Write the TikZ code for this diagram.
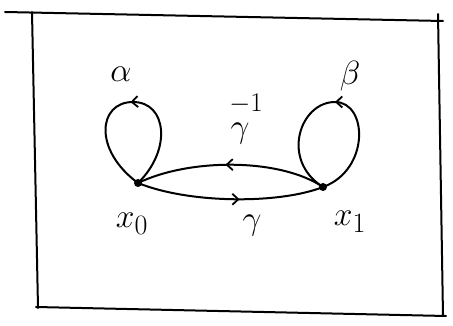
\documentclass[tikz,border=0pt]{standalone}
\usetikzlibrary{arrows.meta,decorations.markings}
\begin{document}
\begin{tikzpicture}[x=1pt,y=-1pt,
  ink/.style={line width=2pt,line cap=round,line join=round},
  frameline/.style={line width=2pt,line cap=round},
  midarrow/.style={postaction={decorate},decoration={markings,
    mark=at position #1 with {\arrow{Straight Barb[length=6pt,width=11pt,line width=1.8pt]}}}},
  vertex/.style={circle,fill=black,inner sep=0pt,minimum size=8pt},
  lbl/.style={font=\Huge}]
\useasboundingbox (0,0) rectangle (453,326);
% frame
\coordinate (tl0) at (5,12);
\coordinate (tr0) at (443,21);
\coordinate (lt) at (32,12);
\coordinate (lb) at (38,308);
\coordinate (rt) at (438,14);
\coordinate (rb) at (443,316);
\coordinate (bl) at (36,307);
\coordinate (br) at (446,316);
\draw[frameline] (tl0) -- (tr0);
\draw[frameline] (lt) -- (lb);
\draw[frameline] (rt) -- (rb);
\draw[frameline] (bl) -- (br);
% vertices
\node[vertex] (x0) at (138,183) {};
\node[vertex] (x1) at (323,187) {};
% loops
\draw[ink,midarrow=0.5] (x0.center) .. controls (172,150) and (167,102) .. (133,102)
   .. controls (98,102) and (93,150) .. (x0.center);
\draw[ink,midarrow=0.5] (x1.center) .. controls (370,170) and (368,102) .. (335,102)
   .. controls (300,102) and (280,160) .. (x1.center);
% arcs
\draw[ink,midarrow=0.53] (x1.center) .. controls (280,158) and (190,158) .. (x0.center);
\draw[ink,midarrow=0.55] (x0.center) .. controls (190,204) and (280,204) .. (x1.center);
% labels
\node[lbl] (la) at (121,74) {\scalebox{1.35}{$\alpha$}};
\node[lbl] (lbt) at (350,76) {\scalebox{1.35}{$\beta$}};
\node[lbl] (lgi) at (240,134) {\scalebox{1.35}{$\gamma$}};
\node[font=\huge] (lgm) at (246,104) {\scalebox{1.3}{$-1$}};
\node[lbl] (lg) at (252,226) {\scalebox{1.35}{$\gamma$}};
\node[lbl] (lx0) at (132,224) {\scalebox{1.35}{$x_0$}};
\node[lbl] (lx1) at (350,222) {\scalebox{1.35}{$x_1$}};
\end{tikzpicture}
\end{document}
